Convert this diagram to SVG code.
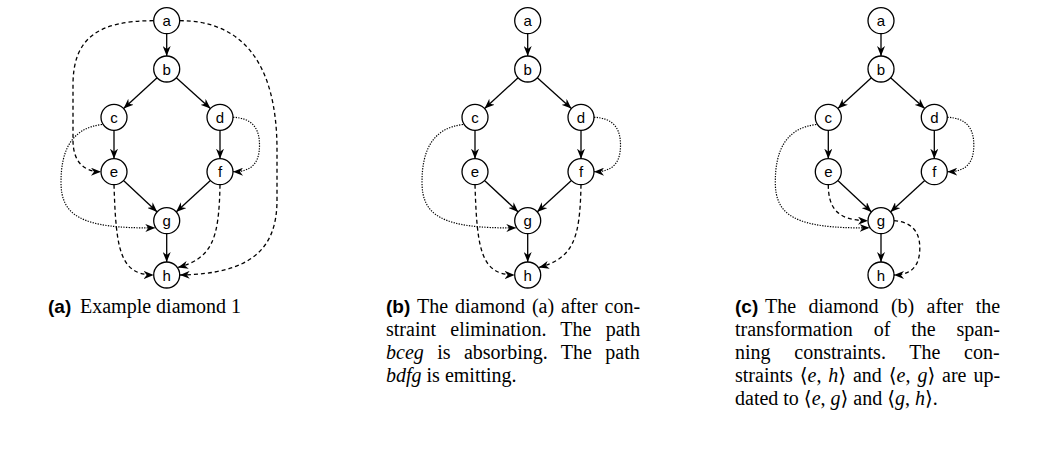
<svg xmlns="http://www.w3.org/2000/svg" width="1041" height="459" viewBox="0 0 1041 459">
<style>
.node circle{fill:#fff;stroke:#000;stroke-width:1.3}
.node text{font-family:"Liberation Sans",Arial,sans-serif;font-size:15px;text-anchor:middle;dominant-baseline:central;fill:#000}
.e{fill:none;stroke:#000;stroke-width:1.3;marker-end:url(#arr)}
.dash{stroke-dasharray:4 3}
.dot{stroke-dasharray:1.3 1.3;stroke-width:1.2}
.cap{font-family:"Liberation Serif","DejaVu Serif",serif;font-size:20px;fill:#000}
.lab{font-family:"Liberation Sans",Arial,sans-serif;font-weight:bold;font-size:19px;fill:#000}
.it{font-style:italic}
</style>
<defs>
<marker id="arr" viewBox="0 0 10 8" refX="10" refY="4" markerWidth="10" markerHeight="8" markerUnits="userSpaceOnUse" orient="auto"><path d="M0,0 L10,4 L0,8 L3,4 z" fill="#000"/></marker>
</defs>

<g id="connectors">
<g id="edges-a">
<path class="e" d="M166.7,33.7 L166.7,56"/>
<path class="e" d="M157.1,77.8 L123.6,108.5"/>
<path class="e" d="M176.3,77.8 L210.4,108.5"/>
<path class="e" d="M114,130.3 L114,158.7"/>
<path class="e" d="M220,130.3 L220,158.7"/>
<path class="e" d="M123.5,180.5 L157.2,211.9"/>
<path class="e" d="M210.4,180.5 L176.1,211.9"/>
<path class="e" d="M166.7,233.7 L166.7,262"/>
<path class="e dash" d="M153.7,20.7 C98,20.7 73,38 73,85 L73,140 C73,160 82,171.7 101,171.7"/>
<path class="e dash" d="M179.7,20.7 C240,20.7 277,60 277,150 L277,200 C277,250 250,274 179.7,275"/>
<path class="e dash" d="M114,184.7 C116,250 120,275 153.7,275"/>
<path class="e dash" d="M220,184.7 C219,240 212,258 178,267.5"/>
<path class="e dot" d="M102,124.5 C72,128 61,150 61,182 C61,215 80,229 155.3,227.8"/>
<path class="e dot" d="M233,117.3 C252,118 259.5,128 259.5,145 C259.5,163 252,171.7 233,171.7"/>
</g>
<g id="edges-b" transform="translate(361,0)">
<path class="e" d="M166.7,33.7 L166.7,56"/>
<path class="e" d="M157.1,77.8 L123.6,108.5"/>
<path class="e" d="M176.3,77.8 L210.4,108.5"/>
<path class="e" d="M114,130.3 L114,158.7"/>
<path class="e" d="M220,130.3 L220,158.7"/>
<path class="e" d="M123.5,180.5 L157.2,211.9"/>
<path class="e" d="M210.4,180.5 L176.1,211.9"/>
<path class="e" d="M166.7,233.7 L166.7,262"/>
<path class="e dash" d="M114,184.7 C116,250 120,275 153.7,275"/>
<path class="e dash" d="M220,184.7 C219,240 212,258 178,267.5"/>
<path class="e dot" d="M102,124.5 C72,128 61,150 61,182 C61,215 80,229 155.3,227.8"/>
<path class="e dot" d="M233,117.3 C252,118 259.5,128 259.5,145 C259.5,163 252,171.7 233,171.7"/>
</g>
<g id="edges-c" transform="translate(714.3,0)">
<path class="e" d="M166.7,33.7 L166.7,56"/>
<path class="e" d="M157.1,77.8 L123.6,108.5"/>
<path class="e" d="M176.3,77.8 L210.4,108.5"/>
<path class="e" d="M114,130.3 L114,158.7"/>
<path class="e" d="M220,130.3 L220,158.7"/>
<path class="e" d="M123.5,180.5 L157.2,211.9"/>
<path class="e" d="M210.4,180.5 L176.1,211.9"/>
<path class="e" d="M166.7,233.7 L166.7,262"/>
<path class="e dash" d="M114,184.7 C114,210 125,220.7 153.7,220.7"/>
<path class="e dash" d="M179.7,220.7 C198,222 205.5,232 205.5,248 C205.5,265 198,275 179.7,275"/>
<path class="e dot" d="M102,124.5 C72,128 61,150 61,182 C61,215 80,229 155.3,227.8"/>
<path class="e dot" d="M233,117.3 C252,118 259.5,128 259.5,145 C259.5,163 252,171.7 233,171.7"/>
</g>
</g>

<g id="pa">
<g id="a-a" class="node"><circle cx="166.7" cy="20.7" r="13"/><text x="166.7" y="20.7">a</text></g>
<g id="a-b" class="node"><circle cx="166.7" cy="69" r="13"/><text x="166.7" y="69">b</text></g>
<g id="a-c" class="node"><circle cx="114" cy="117.3" r="13"/><text x="114" y="117.3">c</text></g>
<g id="a-d" class="node"><circle cx="220" cy="117.3" r="13"/><text x="220" y="117.3">d</text></g>
<g id="a-e" class="node"><circle cx="114" cy="171.7" r="13"/><text x="114" y="171.7">e</text></g>
<g id="a-f" class="node"><circle cx="220" cy="171.7" r="13"/><text x="220" y="171.7">f</text></g>
<g id="a-g" class="node"><circle cx="166.7" cy="220.7" r="13"/><text x="166.7" y="220.7">g</text></g>
<g id="a-h" class="node"><circle cx="166.7" cy="275" r="13"/><text x="166.7" y="275">h</text></g>
</g>
<g id="pb" transform="translate(361,0)">
<g id="b-a" class="node"><circle cx="166.7" cy="20.7" r="13"/><text x="166.7" y="20.7">a</text></g>
<g id="b-b" class="node"><circle cx="166.7" cy="69" r="13"/><text x="166.7" y="69">b</text></g>
<g id="b-c" class="node"><circle cx="114" cy="117.3" r="13"/><text x="114" y="117.3">c</text></g>
<g id="b-d" class="node"><circle cx="220" cy="117.3" r="13"/><text x="220" y="117.3">d</text></g>
<g id="b-e" class="node"><circle cx="114" cy="171.7" r="13"/><text x="114" y="171.7">e</text></g>
<g id="b-f" class="node"><circle cx="220" cy="171.7" r="13"/><text x="220" y="171.7">f</text></g>
<g id="b-g" class="node"><circle cx="166.7" cy="220.7" r="13"/><text x="166.7" y="220.7">g</text></g>
<g id="b-h" class="node"><circle cx="166.7" cy="275" r="13"/><text x="166.7" y="275">h</text></g>
</g>
<g id="pc" transform="translate(714.3,0)">
<g id="c-a" class="node"><circle cx="166.7" cy="20.7" r="13"/><text x="166.7" y="20.7">a</text></g>
<g id="c-b" class="node"><circle cx="166.7" cy="69" r="13"/><text x="166.7" y="69">b</text></g>
<g id="c-c" class="node"><circle cx="114" cy="117.3" r="13"/><text x="114" y="117.3">c</text></g>
<g id="c-d" class="node"><circle cx="220" cy="117.3" r="13"/><text x="220" y="117.3">d</text></g>
<g id="c-e" class="node"><circle cx="114" cy="171.7" r="13"/><text x="114" y="171.7">e</text></g>
<g id="c-f" class="node"><circle cx="220" cy="171.7" r="13"/><text x="220" y="171.7">f</text></g>
<g id="c-g" class="node"><circle cx="166.7" cy="220.7" r="13"/><text x="166.7" y="220.7">g</text></g>
<g id="c-h" class="node"><circle cx="166.7" cy="275" r="13"/><text x="166.7" y="275">h</text></g>
</g>

<g id="caption-a">
<text class="lab" x="48" y="313">(a)</text>
<text class="cap" x="80" y="313">Example diamond 1</text>
</g>
<g id="caption-b">
<text class="lab" x="386" y="313">(b)</text>
<text class="cap" x="417" y="313" word-spacing="1.9">The diamond (a) after con-</text>
<text class="cap" x="386" y="336" word-spacing="9.3">straint elimination. The path</text>
<text class="cap" x="386" y="359" word-spacing="8.4"><tspan class="it">bceg</tspan> is absorbing. The path</text>
<text class="cap" x="386" y="382"><tspan class="it">bdfg</tspan> is emitting.</text>
</g>
<g id="caption-c">
<text class="lab" x="735" y="313">(c)</text>
<text class="cap" x="765" y="313" word-spacing="7.4">The diamond (b) after the</text>
<text class="cap" x="735" y="336" word-spacing="15.9">transformation of the span-</text>
<text class="cap" x="735" y="359" word-spacing="18.7">ning constraints. The con-</text>
<text class="cap" x="735" y="382" word-spacing="1.9">straints ⟨<tspan class="it">e</tspan>, <tspan class="it">h</tspan>⟩ and ⟨<tspan class="it">e</tspan>, <tspan class="it">g</tspan>⟩ are up-</text>
<text class="cap" x="735" y="405">dated to ⟨<tspan class="it">e</tspan>, <tspan class="it">g</tspan>⟩ and ⟨<tspan class="it">g</tspan>, <tspan class="it">h</tspan>⟩.</text>
</g>
</svg>
